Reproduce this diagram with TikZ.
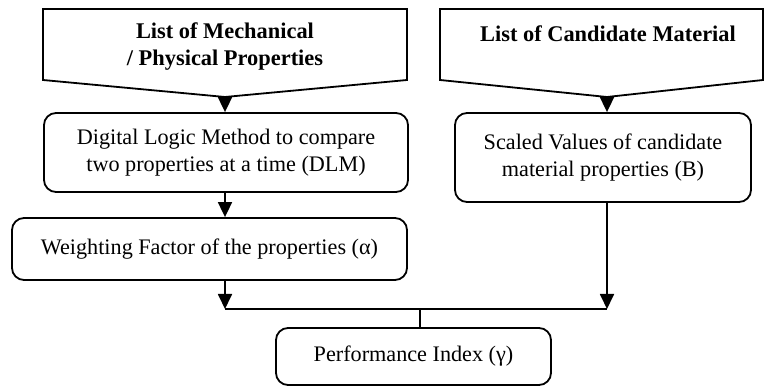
\documentclass[tikz,border=0pt]{standalone}
\usepackage{fontspec}
\setmainfont{Liberation Serif}
\usetikzlibrary{arrows.meta}
\tikzset{
  line/.style={line width=1.8pt},
  arr/.style={line, -{Triangle[width=14pt,length=15pt]}},
  rbox/.style={line, draw, rounded corners=12pt, inner sep=0pt, align=center,
    font=\fontsize{22.2}{27}\selectfont},
  ttl/.style={align=center, inner sep=0pt, font=\fontsize{22.4}{27}\selectfont\bfseries}
}
\begin{document}
\begin{tikzpicture}[x=1pt,y=-1pt]
\useasboundingbox (0,0) rectangle (764,387);
% off-page connector shapes
\coordinate (tipL) at (225,97);
\coordinate (tipR) at (607,97);
\draw[line, line join=miter] (43,9) -- (407,9) -- (407,80) -- (tipL) -- (43,80) -- cycle;
\draw[line, line join=miter] (440,9) -- (763,9) -- (763,80) -- (tipR) -- (440,80) -- cycle;
\node[ttl] (tL) at (225,47) {List of Mechanical\\/ Physical Properties};
\node[ttl] (tR) at (608,34) {List of Candidate Material};
% boxes
\node[rbox, minimum width=364pt, minimum height=79pt] (dlm) at (226,152.5)
  {Digital Logic Method to compare\\two properties at a time (DLM)};
\node[rbox, minimum width=296pt, minimum height=89pt] (scaled) at (603,157.5)
  {Scaled Values of candidate\\material properties (B)};
\node[rbox, minimum width=395pt, minimum height=62pt] (weight) at (209.5,249)
  {Weighting Factor of the properties (α)};
\node[rbox, minimum width=275pt, minimum height=57pt] (perf) at (413.5,356.5)
  {Performance Index (γ)};
% connectors
\coordinate (jL) at (225,309);
\coordinate (jR) at (607,309);
\coordinate (jM) at (420,309);
\draw[arr] (tipL) -- (tipL |- dlm.north);
\draw[arr] (tipR) -- (tipR |- scaled.north);
\draw[arr] (dlm.south -| tipL) -- (weight.north -| tipL);
\draw[arr] (weight.south -| jL) -- (jL);
\draw[arr] (scaled.south -| jR) -- (jR);
\draw[line] (jL) -- (jR);
\draw[line] (jM) -- (jM |- perf.north);
\end{tikzpicture}
\end{document}
